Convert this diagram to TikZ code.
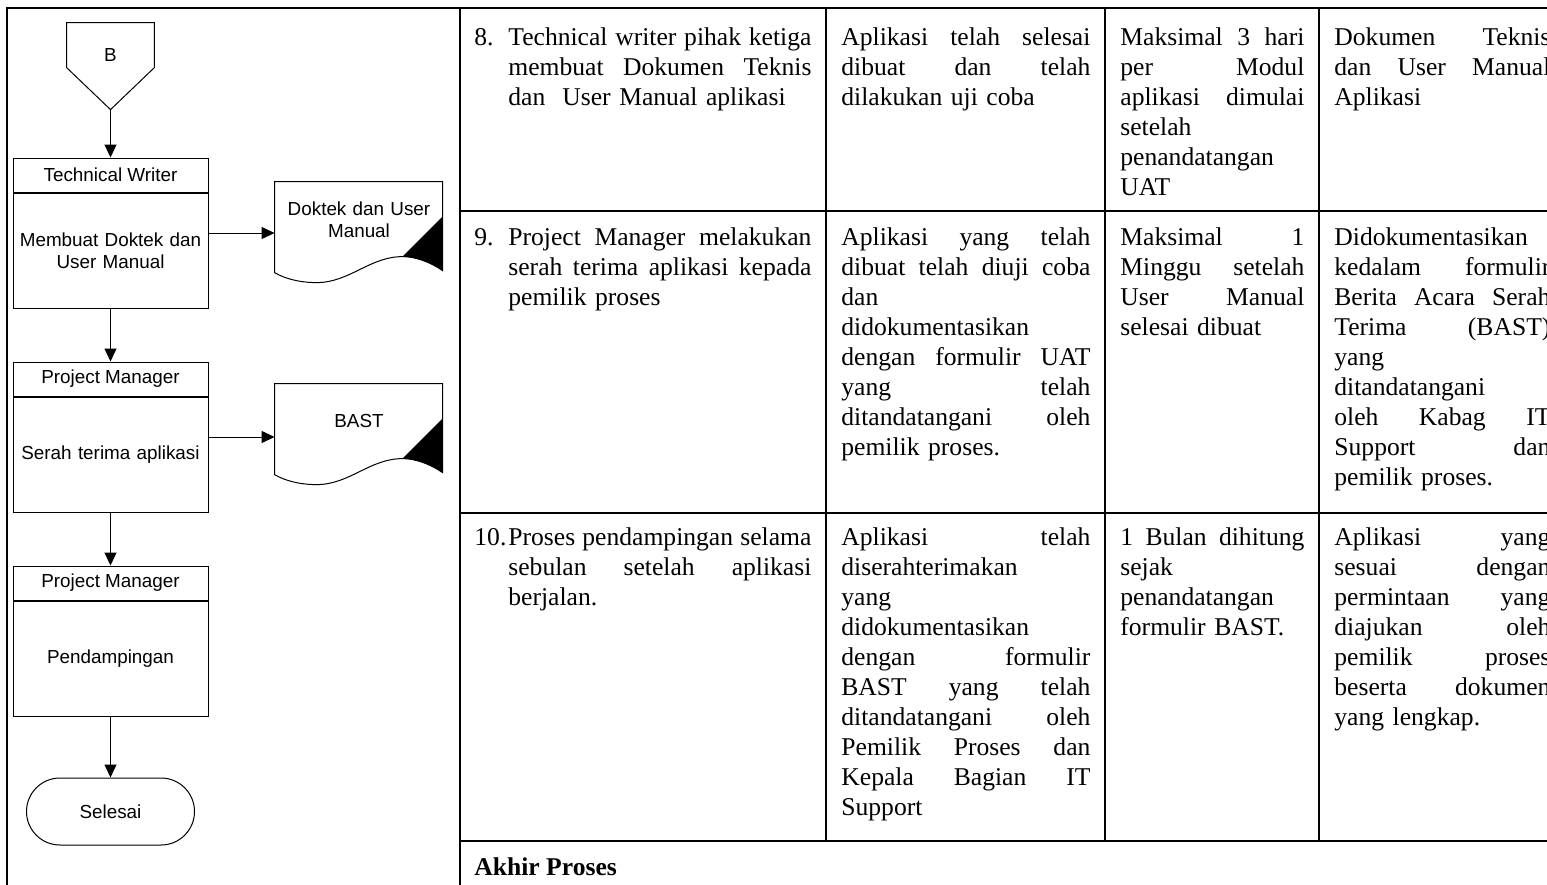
\documentclass[tikz,border=0pt]{standalone}
\usepackage{fontspec}
\setmainfont{Liberation Serif}
\newfontfamily\alirfont{Liberation Sans}
\usetikzlibrary{positioning,calc,arrows.meta}

\newcommand{\jl}[1]{\makebox[\hsize][s]{\spaceskip=0pt\xspaceskip=0pt\relax#1}}
\newcommand{\tabfont}{\fontsize{12.8}{15}\selectfont}
\newcommand{\alirteks}{\alirfont\fontsize{9.43}{11}\selectfont}

\newcommand{\dokbentuk}[1]{
  \begin{scope}[shift={(#1.north west)}]
    \draw[line width=0.5pt] (0,0) -- (168,0) -- (168,89)
      .. controls (155,80) and (140,75) .. (128,75)
      .. controls (95,75) and (75,101) .. (42,101)
      .. controls (25,101) and (10,97) .. (0,91) -- cycle;
    \fill (168,35) -- (128,75) .. controls (140,75) and (155,80) .. (168,89) -- cycle;
  \end{scope}
}

\begin{document}
\begin{tikzpicture}[x=0.5pt,y=-0.5pt]

      \tikzstyle{KepalaBlok} = [
      rectangle,
      draw=black,
      line width=0.5pt,
      minimum width=97.5pt,
      minimum height=17pt,
      inner sep=0pt,
      font=\alirteks
      ]

      \tikzstyle{IsiBlok} = [
      rectangle,
      draw=black,
      line width=0.5pt,
      minimum width=97.5pt,
      minimum height=57.5pt,
      text width=95pt,
      align=center,
      inner sep=0pt,
      font=\alirteks
      ]

      \tikzstyle{DokBlok} = [
      rectangle,
      minimum width=84pt,
      minimum height=37.5pt,
      text width=82pt,
      align=center,
      inner sep=0pt,
      font=\alirteks
      ]

      \tikzstyle{SelBlok} = [
      anchor=north west,
      inner sep=0pt,
      font=\tabfont
      ]

      \tikzstyle{panah} = [
      line width=0.5pt,
      -{Triangle[length=6.5pt,width=6pt]}
      ]

      \useasboundingbox (0,0) rectangle (1547,884);
      \clip (0,0) rectangle (1547,884);

      \draw[line width=1.15pt] (7,900) -- (7,8) -- (1560,8);
      \draw[line width=1.15pt] (460,8) -- (460,900);
      \draw[line width=1pt] (826,8) -- (826,841);
      \draw[line width=1pt] (1105,8) -- (1105,841);
      \draw[line width=1pt] (1319,8) -- (1319,841);
      \draw[line width=1pt] (460,211) -- (1560,211);
      \draw[line width=1pt] (460,513) -- (1560,513);
      \draw[line width=1pt] (460,841) -- (1560,841);

      \node (KonB) [minimum width=43.5pt, minimum height=32pt, inner sep=0pt, font=\alirteks] at (110.5,55) {B};
      \draw[line width=0.5pt] (KonB.north west) -- (KonB.north east) -- ([yshift=-22.5pt]KonB.north east)
        -- ([yshift=-43.5pt]KonB.north) -- ([yshift=-22.5pt]KonB.north west) -- cycle;
      \coordinate (KonBUjung) at ([yshift=-43.5pt]KonB.north);

      \node (TwKepala) [KepalaBlok] at (110.5,175) {Technical Writer};
      \node (TwIsi) [IsiBlok, below=0pt of TwKepala] {Membuat Doktek dan\\User Manual};

      \node (PmKepala) [KepalaBlok, below=26.5pt of TwIsi] {Project Manager};
      \node (PmIsi) [IsiBlok, below=0pt of PmKepala] {Serah terima aplikasi};

      \node (PmDuaKepala) [KepalaBlok, below=26.5pt of PmIsi] {Project Manager};
      \node (PmDuaIsi) [IsiBlok, below=0pt of PmDuaKepala] {Pendampingan};

      \node (Selesai) [rectangle, rounded corners=16.75pt, draw=black, line width=0.5pt,
        minimum width=84pt, minimum height=33.5pt, inner sep=0pt, font=\alirteks,
        below=30.5pt of PmDuaIsi] {Selesai};

      \node (DokUser) [DokBlok] at (359,219.5) {Doktek dan User\\Manual};
      \dokbentuk{DokUser}
      \node (DokBast) [DokBlok] at (359,421.5) {BAST};
      \dokbentuk{DokBast}

      \coordinate (TwTengah) at ($(TwKepala.north east)!0.5!(TwIsi.south east)$);
      \coordinate (PmTengah) at ($(PmKepala.north east)!0.5!(PmIsi.south east)$);

      \draw[panah] (KonBUjung) -- (TwKepala.north);
      \draw[panah] (TwIsi.south) -- (PmKepala.north);
      \draw[panah] (PmIsi.south) -- (PmDuaKepala.north);
      \draw[panah] (PmDuaIsi.south) -- (Selesai.north);
      \draw[panah] (TwTengah) -- (TwTengah -| DokUser.west);
      \draw[panah] (PmTengah) -- (PmTengah -| DokBast.west);

      \node (No8) [SelBlok] at (474,24) {\strut 8.};
      \node (Uraian8) [SelBlok, text width=151.5pt] at (508,24) {\strut
        \jl{Technical writer pihak ketiga}\\
        \jl{membuat Dokumen Teknis}\\
        dan\ \ User Manual aplikasi};
      \node (Syarat8) [SelBlok, text width=124.5pt] at (841,24) {\strut
        \jl{Aplikasi telah selesai}\\
        \jl{dibuat dan telah}\\
        dilakukan uji coba};
      \node (Waktu8) [SelBlok, text width=92pt] at (1120,24) {\strut
        \jl{Maksimal 3 hari}\\
        \jl{per Modul}\\
        \jl{aplikasi dimulai}\\
        setelah\\
        penandatangan\\
        UAT};
      \node (Hasil8) [SelBlok, text width=108pt] at (1334,24) {\strut
        \jl{Dokumen Teknis}\\
        \jl{dan User Manual}\\
        Aplikasi};

      \node (No9) [SelBlok] at (474,224) {\strut 9.};
      \node (Uraian9) [SelBlok, text width=151.5pt] at (508,224) {\strut
        \jl{Project Manager melakukan}\\
        \jl{serah terima aplikasi kepada}\\
        pemilik proses};
      \node (Syarat9) [SelBlok, text width=124.5pt] at (841,224) {\strut
        \jl{Aplikasi yang telah}\\
        \jl{dibuat telah diuji coba}\\
        dan\\
        didokumentasikan\\
        \jl{dengan formulir UAT}\\
        \jl{yang telah}\\
        \jl{ditandatangani oleh}\\
        pemilik proses.};
      \node (Waktu9) [SelBlok, text width=92pt] at (1120,224) {\strut
        \jl{Maksimal 1}\\
        \jl{Minggu setelah}\\
        \jl{User Manual}\\
        selesai dibuat};
      \node (Hasil9) [SelBlok, text width=108pt] at (1334,224) {\strut
        Didokumentasikan\\
        \jl{kedalam formulir}\\
        \jl{Berita Acara Serah}\\
        \jl{Terima (BAST)}\\
        yang\\
        ditandatangani\\
        \jl{oleh Kabag IT}\\
        \jl{Support dan}\\
        pemilik proses.};

      \node (No10) [SelBlok] at (474,524) {\strut 10.};
      \node (Uraian10) [SelBlok, text width=151.5pt] at (508,524) {\strut
        \jl{Proses pendampingan selama}\\
        \jl{sebulan setelah aplikasi}\\
        berjalan.};
      \node (Syarat10) [SelBlok, text width=124.5pt] at (841,524) {\strut
        \jl{Aplikasi telah}\\
        diserahterimakan\\
        yang\\
        didokumentasikan\\
        \jl{dengan formulir}\\
        \jl{BAST yang telah}\\
        \jl{ditandatangani oleh}\\
        \jl{Pemilik Proses dan}\\
        \jl{Kepala Bagian IT}\\
        Support};
      \node (Waktu10) [SelBlok, text width=92pt] at (1120,524) {\strut
        \jl{1 Bulan dihitung}\\
        sejak\\
        penandatangan\\
        formulir BAST.};
      \node (Hasil10) [SelBlok, text width=108pt] at (1334,524) {\strut
        \jl{Aplikasi yang}\\
        \jl{sesuai dengan}\\
        \jl{permintaan yang}\\
        \jl{diajukan oleh}\\
        \jl{pemilik proses}\\
        \jl{beserta dokumen}\\
        yang lengkap.};

      \node (AkhirProses) [SelBlok] at (474,854) {\strut\textbf{Akhir Proses}};

    \end{tikzpicture}
\end{document}
